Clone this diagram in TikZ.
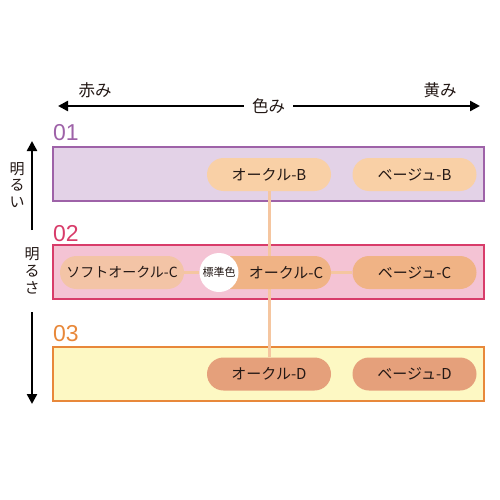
\documentclass[tikz,border=0pt]{standalone}
\usepackage{fontspec}
\setmainfont{Noto Sans CJK JP}
\newfontfamily\digitfont{Liberation Sans}
\usetikzlibrary{arrows.meta}
\pgfdeclarelayer{bg}
\pgfdeclarelayer{lines}
\pgfsetlayers{bg,lines,main}
\definecolor{txt}{HTML}{231815}
\definecolor{pur}{HTML}{9E62A8}
\definecolor{purfill}{HTML}{E3D2E7}
\definecolor{red2}{HTML}{D83C6A}
\definecolor{pinkfill}{HTML}{F4C3D4}
\definecolor{org}{HTML}{E8883A}
\definecolor{yelfill}{HTML}{FDF8C3}
\definecolor{pillB}{HTML}{F9D0A6}
\definecolor{pillSC}{HTML}{F3C4A6}
\definecolor{pillC}{HTML}{F0B385}
\definecolor{pillD}{HTML}{E5A07B}
\definecolor{link}{HTML}{F5C6A0}
\tikzset{
  band/.style={draw=#1, line width=1.6pt, minimum width=431pt, minimum height=54pt, inner sep=0pt},
  pill/.style={fill=#1, rounded corners=16.5pt, minimum width=124pt, minimum height=33pt, inner sep=0pt, text=txt, font=\fontsize{15}{16}\selectfont},
  num/.style={text=#1, font=\digitfont\fontsize{23}{24}\selectfont, inner sep=0pt, anchor=west},
  axis/.style={text=txt, font=\fontsize{16.5}{18}\selectfont, inner sep=0pt},
  bigarrow/.style={line width=2.4pt, -{Triangle[width=10pt,length=10pt]}},
  linkline/.style={draw=link, line width=3pt}
}
\begin{document}
\begin{tikzpicture}[x=1pt,y=-1pt]
\useasboundingbox (0,0) rectangle (500,500);
% top axis
\node[axis] (red) at (95,90) {赤み};
\node[axis] (yel) at (440,90) {黄み};
\node[axis, inner xsep=8pt] (iro) at (268.5,106) {色み};
\coordinate (lt) at (58,106);
\coordinate (rt) at (480,106);
\draw[bigarrow] (iro.west) -- (lt);
\draw[bigarrow] (iro.east) -- (rt);
% left axis
\coordinate (ut) at (32,141);
\coordinate (ub) at (32,230);
\coordinate (lb) at (32,312);
\coordinate (lt2) at (32,404);
\draw[bigarrow] (ub) -- (ut);
\draw[bigarrow] (lb) -- (lt2);
\node[axis, align=center, font=\fontsize{15}{16.5}\selectfont] (mrui) at (17,185) {明\\る\\い};
\node[axis, align=center, font=\fontsize{15}{17}\selectfont] (mrsa) at (32,271) {明\\る\\さ};
% bands
\node[num=pur] (n1) at (53,133) {01};
\node[num=red2] (n2) at (53,233.5) {02};
\node[num=org] (n3) at (53,334) {03};
\begin{pgfonlayer}{bg}
\node[band=pur, fill=purfill] (b1) at (268.5,174) {};
\node[band=red2, fill=pinkfill] (b2) at (268.5,272) {};
\node[band=org, fill=yelfill] (b3) at (268.5,374) {};
\end{pgfonlayer}
% pills
\node[pill=pillB] (okB) at (269,174.5) {オークル-B};
\node[pill=pillB] (beB) at (414.5,174.5) {ベージュ-B};
\node[pill=pillSC, font=\fontsize{14}{15}\selectfont] (soC) at (122,272.5) {ソフトオークル-C};
\node[pill=pillC] (okC) at (269,272.5) {};
\node[text=txt, font=\fontsize{15}{16}\selectfont, inner sep=0pt] (okCt) at (286,272.5) {オークル-C};
\node[circle, fill=white, minimum size=39pt, inner sep=0pt, text=txt, font=\fontsize{11}{12}\selectfont] (std) at (219,272.5) {標準色};
\node[pill=pillC] (beC) at (414.5,272.5) {ベージュ-C};
\node[pill=pillD] (okD) at (269,374) {オークル-D};
\node[pill=pillD] (beD) at (414.5,374) {ベージュ-D};
% connectors
\begin{pgfonlayer}{lines}
\draw[linkline] (okB.south) -- (okD.north);
\draw[linkline] (soC.east) -- (std.west);
\draw[linkline] (okC.east) -- (beC.west);
\end{pgfonlayer}
\end{tikzpicture}
\end{document}
